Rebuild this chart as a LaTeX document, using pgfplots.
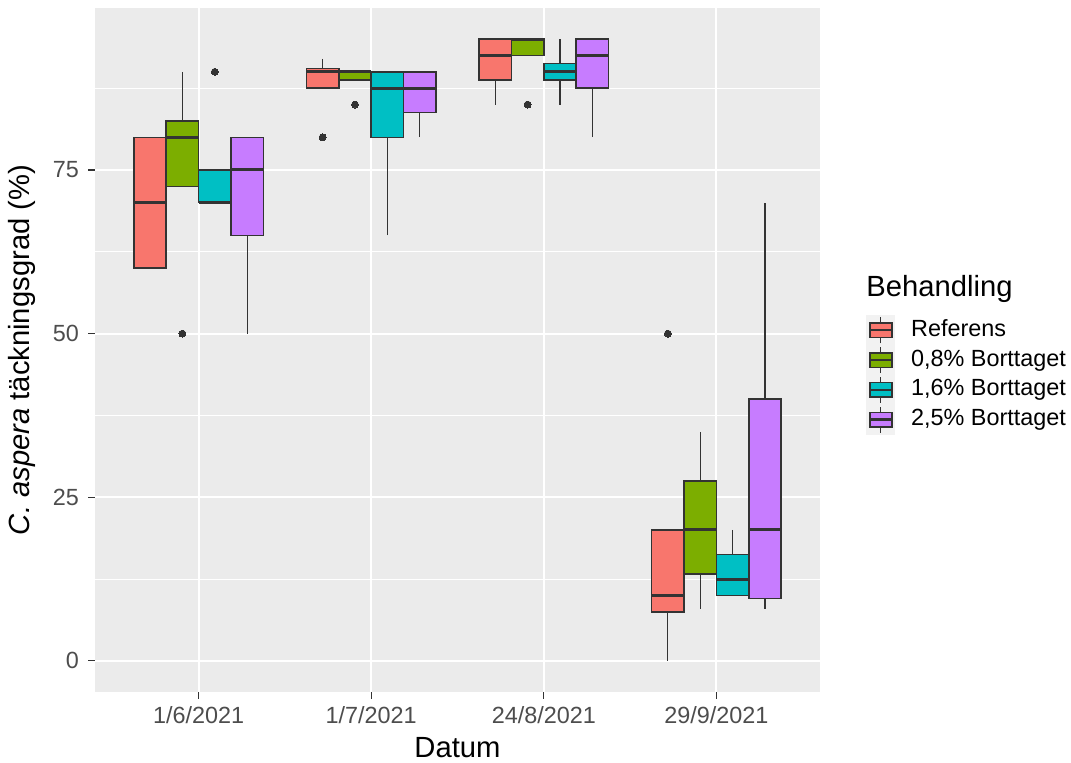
\documentclass[border=0pt]{standalone}
\usepackage{pgfplots}
\pgfplotsset{compat=1.18}
\usepgfplotslibrary{statistics}
\usepackage{fontspec}
\setmainfont{Liberation Sans}
\definecolor{ggred}{HTML}{F8766D}
\definecolor{gggreen}{HTML}{7CAE00}
\definecolor{ggcyan}{HTML}{00BFC4}
\definecolor{ggpurple}{HTML}{C77CFF}
\definecolor{gray92}{HTML}{EBEBEB}
\definecolor{gray95}{HTML}{F2F2F2}
\definecolor{gray20}{HTML}{333333}
\definecolor{gray30}{HTML}{4D4D4D}
\pgfplotsset{
  ggbox/.style={draw=gray20, fill=#1, line width=0.75pt, solid,
    mark=*, mark size=1.75pt, mark options={fill=gray20, draw=gray20, line width=0pt},
    forget plot},
  ggkey/.style={legend image code/.code={
    \fill[gray95] (0pt,-7.25pt) rectangle (14pt,7.25pt);
    \draw[gray20, line width=0.6pt] (7pt,-6.5pt) -- (7pt,6.5pt);
    \draw[gray20, line width=0.75pt, fill=#1] (1.5pt,-3.6pt) rectangle (12.5pt,3.6pt);
    \draw[gray20, line width=1.2pt] (1.5pt,0pt) -- (12.5pt,0pt);
  }},
}
\begin{document}
\begin{tikzpicture}
\begin{axis}[
  at={(47.5pt,35.5pt)}, anchor=south west,
  scale only axis, width=362.5pt, height=342pt,
  xmin=0.4, xmax=4.6, ymin=-4.75, ymax=99.75,
  xtick={1,2,3,4},
  xticklabels={1/6/2021,1/7/2021,24/8/2021,29/9/2021},
  ytick={0,25,50,75},
  minor ytick={12.5,37.5,62.5,87.5},
  grid=both,
  major grid style={white, line width=1pt},
  minor grid style={white, line width=0.5pt},
  axis background/.style={fill=gray92},
  axis line style={draw=none},
  tick align=outside,
  xtick pos=bottom, ytick pos=left,
  major tick length=3.5pt, minor tick length=0pt,
  tick style={gray20, line width=0.6pt},
  /pgf/number format/assume math mode=true,
  ticklabel style={font=\fontsize{11.7}{14}\selectfont, text=gray30},
  xticklabel style={yshift=0pt},
  yticklabel style={xshift=-1pt},
  xlabel={Datum},
  ylabel={\textit{C. aspera} täckningsgrad (\%)},
  every axis x label/.style={at={(axis description cs:0.5,-0.0819)}, anchor=center,
    font=\fontsize{14.6}{17}\selectfont, text=black},
  every axis y label/.style={at={(axis description cs:-0.1007,0.5)}, rotate=90, anchor=center,
    font=\fontsize{14.6}{17}\selectfont, text=black},
  boxplot/draw direction=y,
  boxplot/box extend=0.1875,
  boxplot/whisker extend=0,
  boxplot/every median/.style={line width=1.5pt},
  boxplot/every whisker/.style={line width=0.6pt},
  legend style={at={(axis description cs:1.0634,0.5512)}, anchor=north west,
    draw=none, fill=none, inner sep=0pt, row sep=0pt,
    font=\fontsize{11.7}{14}\selectfont,
    nodes={inner sep=0pt, text height=8.5pt, text depth=2.5pt}},
  legend cell align=left,
  /tikz/every odd column/.append style={column sep=8pt},
]
% ---------- 1/6/2021 ----------
\addplot[ggbox=ggred, boxplot prepared={draw position=0.71875,
  lower whisker=60, lower quartile=60, median=70, upper quartile=80, upper whisker=80}] coordinates {};
\addplot[ggbox=gggreen, boxplot prepared={draw position=0.90625,
  lower whisker=72.5, lower quartile=72.5, median=80, upper quartile=82.5, upper whisker=90}] coordinates {(0,50)};
\addplot[ggbox=ggcyan, boxplot prepared={draw position=1.09375,
  lower whisker=70, lower quartile=70, median=70, upper quartile=75, upper whisker=75}] coordinates {(0,90)};
\addplot[ggbox=ggpurple, boxplot prepared={draw position=1.28125,
  lower whisker=50, lower quartile=65, median=75, upper quartile=80, upper whisker=80}] coordinates {};
% ---------- 1/7/2021 ----------
\addplot[ggbox=ggred, boxplot prepared={draw position=1.71875,
  lower whisker=87.5, lower quartile=87.5, median=90, upper quartile=90.5, upper whisker=92}] coordinates {(0,80)};
\addplot[ggbox=gggreen, boxplot prepared={draw position=1.90625,
  lower whisker=88.75, lower quartile=88.75, median=90, upper quartile=90, upper whisker=90}] coordinates {(0,85)};
\addplot[ggbox=ggcyan, boxplot prepared={draw position=2.09375,
  lower whisker=65, lower quartile=80, median=87.5, upper quartile=90, upper whisker=90}] coordinates {};
\addplot[ggbox=ggpurple, boxplot prepared={draw position=2.28125,
  lower whisker=80, lower quartile=83.75, median=87.5, upper quartile=90, upper whisker=90}] coordinates {};
% ---------- 24/8/2021 ----------
\addplot[ggbox=ggred, boxplot prepared={draw position=2.71875,
  lower whisker=85, lower quartile=88.75, median=92.5, upper quartile=95, upper whisker=95}] coordinates {};
\addplot[ggbox=gggreen, boxplot prepared={draw position=2.90625,
  lower whisker=92.5, lower quartile=92.5, median=95, upper quartile=95, upper whisker=95}] coordinates {(0,85)};
\addplot[ggbox=ggcyan, boxplot prepared={draw position=3.09375,
  lower whisker=85, lower quartile=88.75, median=90, upper quartile=91.25, upper whisker=95}] coordinates {};
\addplot[ggbox=ggpurple, boxplot prepared={draw position=3.28125,
  lower whisker=80, lower quartile=87.5, median=92.5, upper quartile=95, upper whisker=95}] coordinates {};
% ---------- 29/9/2021 ----------
\addplot[ggbox=ggred, boxplot prepared={draw position=3.71875,
  lower whisker=0, lower quartile=7.5, median=10, upper quartile=20, upper whisker=20}] coordinates {(0,50)};
\addplot[ggbox=gggreen, boxplot prepared={draw position=3.90625,
  lower whisker=8, lower quartile=13.25, median=20, upper quartile=27.5, upper whisker=35}] coordinates {};
\addplot[ggbox=ggcyan, boxplot prepared={draw position=4.09375,
  lower whisker=10, lower quartile=10, median=12.5, upper quartile=16.25, upper whisker=20}] coordinates {};
\addplot[ggbox=ggpurple, boxplot prepared={draw position=4.28125,
  lower whisker=8, lower quartile=9.5, median=20, upper quartile=40, upper whisker=70}] coordinates {};
% ---------- legend ----------
\addlegendimage{ggkey=ggred}
\addlegendentry{Referens}
\addlegendimage{ggkey=gggreen}
\addlegendentry{0,8\% Borttaget}
\addlegendimage{ggkey=ggcyan}
\addlegendentry{1,6\% Borttaget}
\addlegendimage{ggkey=ggpurple}
\addlegendentry{2,5\% Borttaget}
\end{axis}
\node[anchor=west, inner sep=0pt, font=\fontsize{14.6}{17}\selectfont] at (433pt,237pt) {Behandling};
\pgfresetboundingbox
\path[use as bounding box] (0,0) rectangle (535.5pt,381.5pt);
\end{tikzpicture}
\end{document}
